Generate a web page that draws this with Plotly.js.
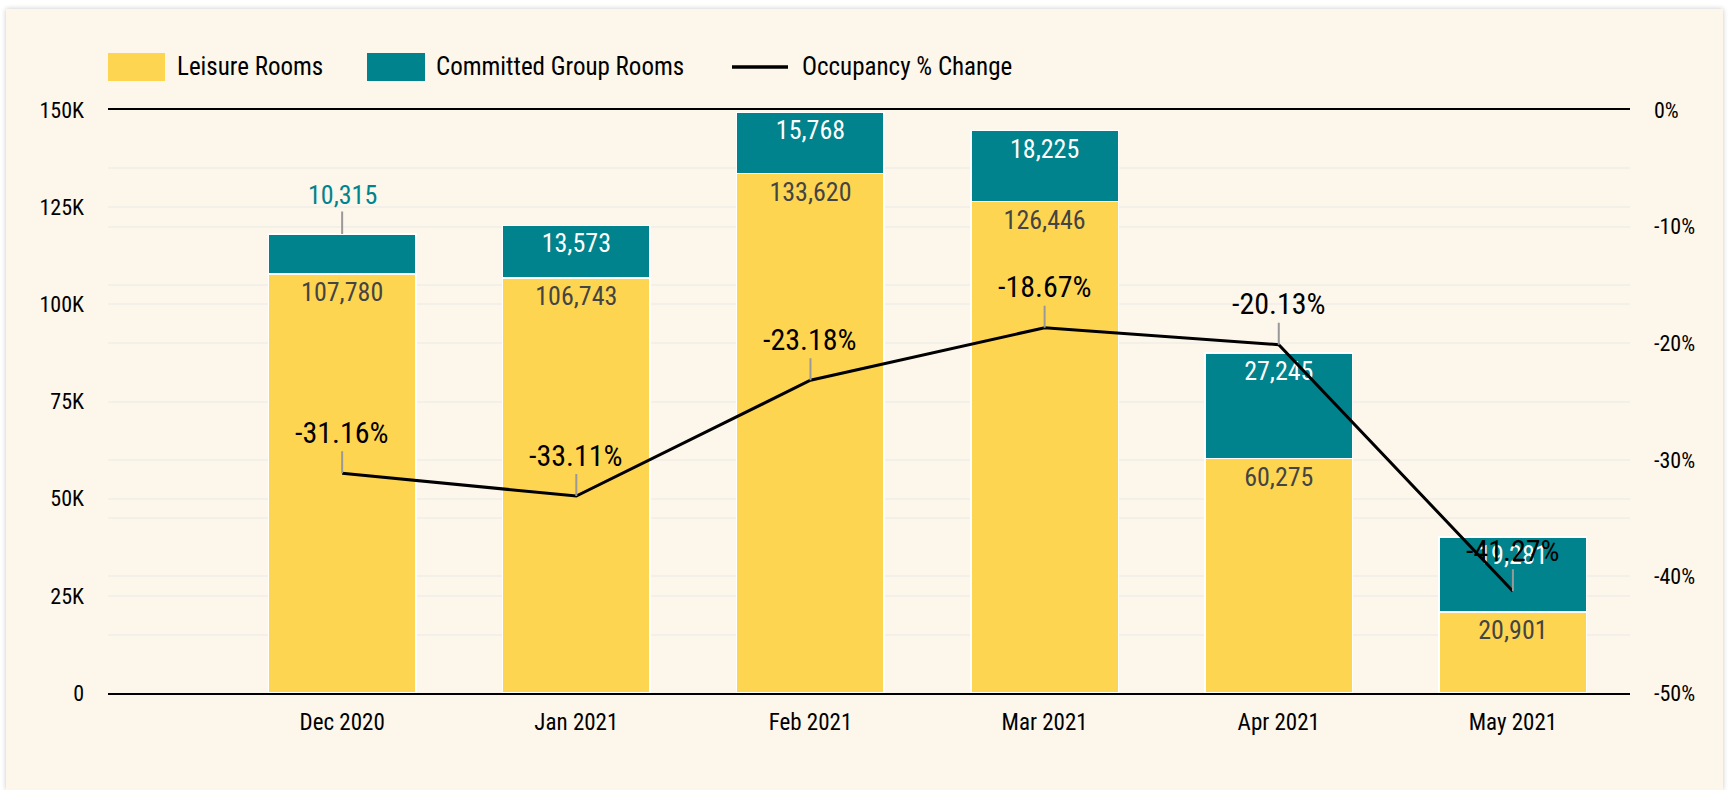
<!DOCTYPE html>
<html>
<head>
<meta charset="utf-8">
<script src="https://cdn.plot.ly/plotly-3.0.1.min.js"></script>
<style>
  html, body { margin: 0; padding: 0; background: #ffffff; width: 1729px; height: 790px; overflow: hidden; }
  #card { position: absolute; left: 6px; top: 9px; width: 1717px; height: 781px; background: #fdf6eb;
          box-shadow: 0 0 5px rgba(0,0,0,0.22); }
  #chart { width: 1717px; height: 781px; }
</style>
</head>
<body>
<div id="card"><div id="chart"></div></div>
<script>
// ---- data ----
const months = ["Dec 2020", "Jan 2021", "Feb 2021", "Mar 2021", "Apr 2021", "May 2021"];
const leisureRooms = [107780, 106743, 133620, 126446, 60275, 20901];
const committedGroupRooms = [10315, 13573, 15768, 18225, 27245, 19281];
const occupancyChange = [-31.16, -33.11, -23.18, -18.67, -20.13, -41.27];
const seriesNames = ["Leisure Rooms", "Committed Group Rooms", "Occupancy % Change"];
const leftTickVals = [0, 25000, 50000, 75000, 100000, 125000, 150000];
const leftTickText = ["0", "25K", "50K", "75K", "100K", "125K", "150K"];
const rightTickVals = [-50, -40, -30, -20, -10, 0];
const rightTickText = ["-50%", "-40%", "-30%", "-20%", "-10%", "0%"];

// ---- style ----
const FONT = '"Liberation Sans Narrow", "Roboto Condensed", Roboto, "Liberation Sans", sans-serif';
const YELLOW = "#fed550";
const TEAL = "#00838c";
const GRID = "#f3f0ea";
const BG = "#fdf6eb";
const SMALL_SEGMENT = 12000; // segments below this get their label outside

const fmt = v => v.toLocaleString("en-US");
const pct = v => v.toFixed(2) + "%";

const W = 1717, H = 781;
const M = { l: 102, r: 93, t: 101, b: 97 };
const PW = W - M.l - M.r, PH = H - M.t - M.b;
const px2x = px => (px - M.l) / PW;        // px relative to chart div
const py2y = py => (H - M.b - py) / PH;

const leisure = {
  type: "bar", name: seriesNames[0], x: months, y: leisureRooms,
  marker: { color: YELLOW, line: { color: "#ffffff", width: 1.5 } },
  text: leisureRooms.map(fmt), textposition: "inside", insidetextanchor: "end",
  textangle: 0, constraintext: "none",
  insidetextfont: { family: FONT, size: 26, color: "#444444" },
  hoverinfo: "skip", showlegend: false
};
const committed = {
  type: "bar", name: seriesNames[1], x: months, y: committedGroupRooms,
  marker: { color: TEAL, line: { color: "#ffffff", width: 1.5 } },
  text: committedGroupRooms.map(v => v < SMALL_SEGMENT ? "" : fmt(v)),
  textposition: "inside", insidetextanchor: "end",
  textangle: 0, constraintext: "none",
  insidetextfont: { family: FONT, size: 26, color: "#ffffff" },
  hoverinfo: "skip", showlegend: false
};
const occupancy = {
  type: "scatter", mode: "lines", name: seriesNames[2], x: months, y: occupancyChange,
  yaxis: "y2", line: { color: "#000000", width: 3 }, cliponaxis: false,
  hoverinfo: "skip", showlegend: false
};

const annotations = [];
// line labels
months.forEach((m, i) => {
  annotations.push({
    x: m, y: occupancyChange[i], xref: "x", yref: "y2",
    text: pct(occupancyChange[i]), showarrow: true, arrowhead: 0, arrowwidth: 2,
    arrowcolor: "#999999", ax: 0, ay: -41, standoff: 0,
    font: { family: FONT, size: 30, color: "#000000" }
  });
});
// outside labels for small committed segments
months.forEach((m, i) => {
  if (committedGroupRooms[i] < SMALL_SEGMENT) {
    annotations.push({
      x: m, y: leisureRooms[i] + committedGroupRooms[i], xref: "x", yref: "y",
      text: fmt(committedGroupRooms[i]), showarrow: true, arrowhead: 0, arrowwidth: 2,
      arrowcolor: "#999999", ax: 0, ay: -39, standoff: 0,
      font: { family: FONT, size: 26, color: TEAL }
    });
  }
});

// custom legend (pixel positions relative to chart div)
const legendItems = [
  { sx0: 102, sx1: 159, tx: 169, kind: "rect", color: YELLOW },
  { sx0: 361, sx1: 419, tx: 428, kind: "rect", color: TEAL },
  { sx0: 726, sx1: 782, tx: 794, kind: "line", color: "#000000" }
];
const shapes = [];
const legY = 58; // centre in px within chart div
legendItems.forEach((it, i) => {
  if (it.kind === "rect") {
    shapes.push({ type: "rect", xref: "paper", yref: "paper",
      x0: px2x(it.sx0), x1: px2x(it.sx1), y0: py2y(legY + 14), y1: py2y(legY - 14),
      fillcolor: it.color, line: { width: 0 } });
  } else {
    shapes.push({ type: "line", xref: "paper", yref: "paper",
      x0: px2x(it.sx0), x1: px2x(it.sx1), y0: py2y(legY), y1: py2y(legY),
      line: { color: it.color, width: 3.5 } });
  }
  annotations.push({ xref: "paper", yref: "paper", x: px2x(it.tx), y: py2y(legY),
    xanchor: "left", yanchor: "middle", showarrow: false, text: seriesNames[i],
    font: { family: FONT, size: 25, color: "#000000" } });
});

const layout = {
  width: W, height: H,
  margin: M,
  paper_bgcolor: BG, plot_bgcolor: BG,
  barmode: "stack", bargap: 0.37,
  showlegend: false,
  font: { family: FONT, color: "#000000" },
  xaxis: {
    type: "category", range: [-1, 5.5], fixedrange: true,
    showgrid: false, zeroline: false,
    showline: true, mirror: true, linecolor: "#000000", linewidth: 2,
    ticks: "", ticklabelstandoff: 7,
    tickfont: { family: FONT, size: 23, color: "#000000" }
  },
  yaxis: {
    range: [0, 150000], fixedrange: true,
    tickvals: leftTickVals, ticktext: leftTickText,
    showgrid: true, gridcolor: GRID, gridwidth: 2,
    zeroline: false, showline: false, ticks: "", ticklabelstandoff: 23,
    tickfont: { family: FONT, size: 22, color: "#000000" }
  },
  yaxis2: {
    overlaying: "y", side: "right", range: [-50, 0], fixedrange: true,
    tickvals: rightTickVals, ticktext: rightTickText,
    showgrid: true, gridcolor: GRID, gridwidth: 2,
    minor: { dtick: 5, tick0: 0, showgrid: true, gridcolor: GRID, gridwidth: 2, ticks: "" },
    zeroline: false, showline: false, ticks: "", ticklabelstandoff: 23,
    tickfont: { family: FONT, size: 22, color: "#000000" }
  },
  shapes: shapes,
  annotations: annotations
};

Plotly.newPlot("chart", [leisure, committed, occupancy], layout, { displayModeBar: false, staticPlot: true });
</script>
</body>
</html>
